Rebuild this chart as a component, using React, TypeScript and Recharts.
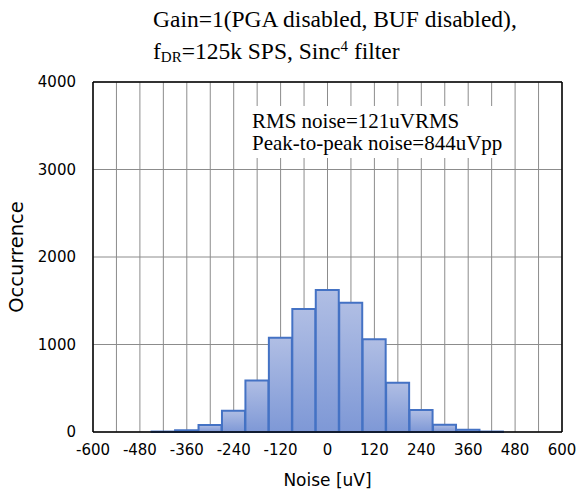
import { ComposedChart, Bar, XAxis, YAxis, CartesianGrid, ReferenceLine } from 'recharts'

// histogram bins, centre of each 60 uV bin
const binCenters = [-480, -420, -360, -300, -240, -180, -120, -60, 0, 60, 120, 180, 240, 300, 360, 420, 480]
const counts = [0, 5, 20, 80, 243, 590, 1078, 1406, 1623, 1478, 1059, 564, 251, 82, 25, 5, 0]

const xTicks = [-600, -540, -480, -420, -360, -300, -240, -180, -120, -60, 0, 60, 120, 180, 240, 300, 360, 420, 480, 540, 600]
const yTicks = [0, 1000, 2000, 3000, 4000]

const data = binCenters.map((x, i) => ({ x, count: counts[i] }))

const sans = 'Verdana, "DejaVu Sans", sans-serif'
const serif = '"Liberation Serif", "Times New Roman", serif'

export default function App() {
  return (
    <div style={{ position: 'absolute', left: 0, top: 0, width: 577, height: 492, background: '#fff' }}>
      <div style={{ position: 'absolute', left: 153, top: 6, fontFamily: serif, fontSize: 23.5, lineHeight: '27px', color: '#000', whiteSpace: 'nowrap' }}>
        Gain=1(PGA disabled, BUF disabled),
        <br />
        f<sub style={{ fontSize: 15, verticalAlign: '-3px' }}>DR</sub>=125k SPS, Sinc
        <sup style={{ fontSize: 15, verticalAlign: '8px' }}>4</sup> filter
      </div>
      <ComposedChart
        width={577}
        height={492}
        data={data}
        margin={{ top: 82, right: 15, bottom: 0, left: 0 }}
        barCategoryGap={0}
        barGap={0}
      >
        <defs>
          <linearGradient id="barFill" x1="0" y1="0" x2="0" y2="1">
            <stop offset="0%" stopColor="#B0BEE4" />
            <stop offset="100%" stopColor="#7E98D6" />
          </linearGradient>
        </defs>
        <CartesianGrid stroke="#8c8c8c" strokeWidth={1} />
        <XAxis
          dataKey="x"
          type="number"
          domain={[-600, 600]}
          ticks={xTicks}
          interval={0}
          tickFormatter={(v: number) => (v % 120 === 0 ? String(v) : '')}
          tickLine={false}
          axisLine={{ stroke: '#000', strokeWidth: 1.5 }}
          tick={{ fill: '#000', fontSize: 15, fontFamily: sans }}
          tickMargin={6}
          height={60}
          label={{ value: 'Noise [uV]', position: 'insideBottom', offset: 6, fill: '#000', fontSize: 17, fontFamily: sans }}
        />
        <YAxis
          type="number"
          domain={[0, 4000]}
          ticks={yTicks}
          interval={0}
          tickLine={false}
          axisLine={{ stroke: '#000', strokeWidth: 1.5 }}
          tick={{ fill: '#000', fontSize: 15, fontFamily: sans }}
          tickMargin={11}
          width={93}
          label={{ value: 'Occurrence', angle: -90, position: 'insideLeft', offset: 16, textAnchor: 'middle', fill: '#000', fontSize: 19.5, fontFamily: sans }}
        />
        <ReferenceLine x={600} stroke="#000" strokeWidth={1.5} />
        <ReferenceLine y={4000} stroke="#000" strokeWidth={1.5} />
        <Bar dataKey="count" fill="url(#barFill)" stroke="#4472C4" strokeWidth={2} isAnimationActive={false} />
      </ComposedChart>
      <div style={{ position: 'absolute', left: 246, top: 106, fontFamily: serif, fontSize: 21, lineHeight: '22px', color: '#000', background: '#fff', padding: '4px 6px', whiteSpace: 'nowrap' }}>
        RMS noise=121uVRMS
        <br />
        Peak-to-peak noise=844uVpp
      </div>
    </div>
  )
}
